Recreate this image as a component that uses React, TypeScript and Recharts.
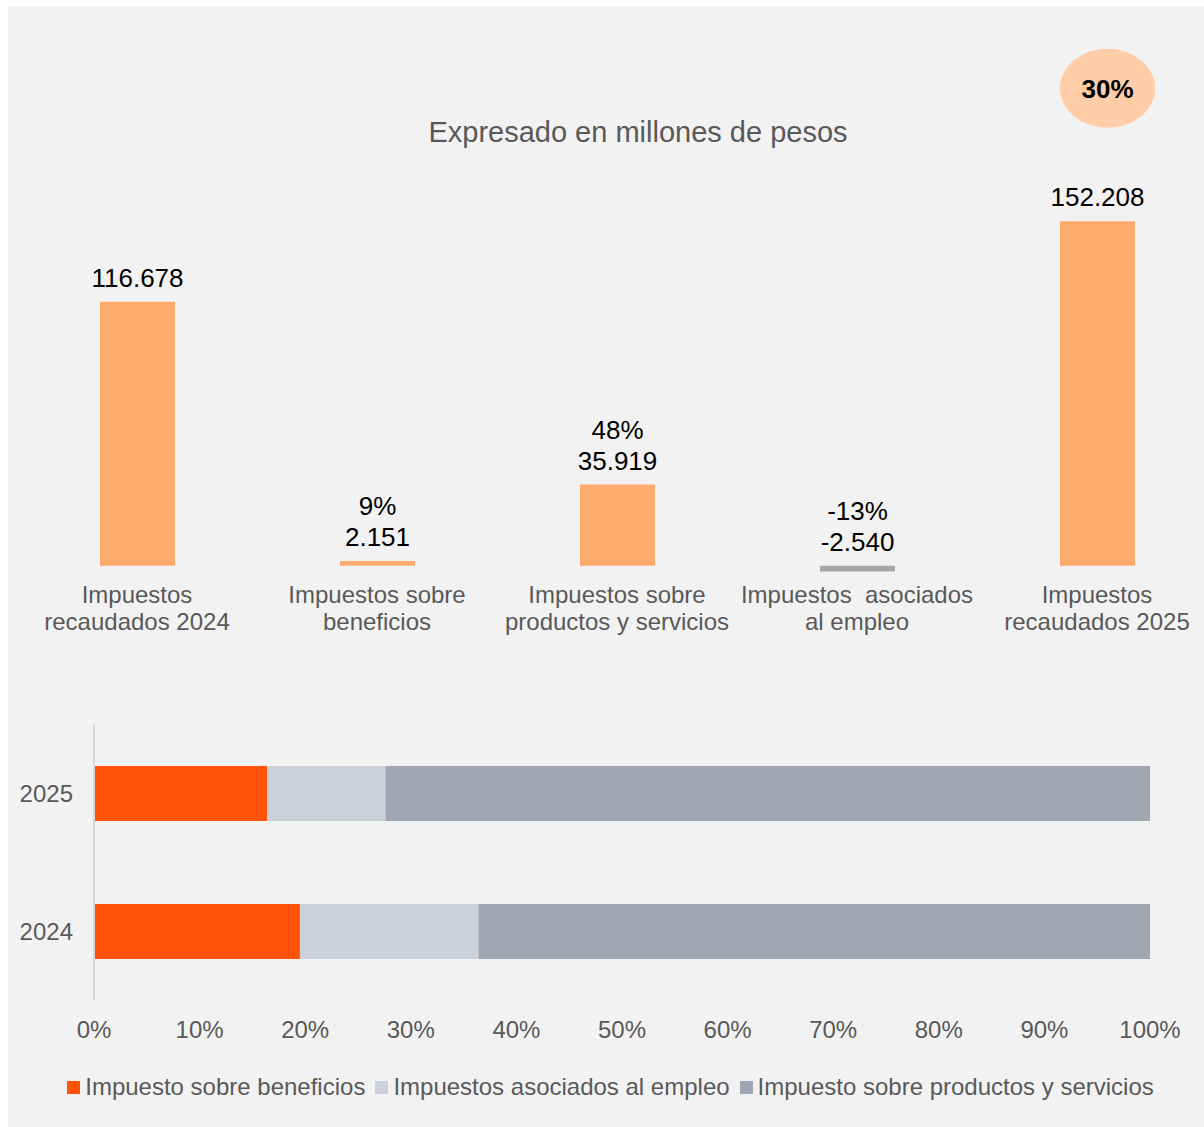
import React from "react";
import {
  BarChart,
  Bar,
  XAxis,
  YAxis,
  Cell,
  LabelList,
  Legend,
} from "recharts";

// top chart: variation of tax collection (millones de pesos)
const categories = [
  "Impuestos\nrecaudados 2024",
  "Impuestos sobre\nbeneficios",
  "Impuestos sobre\nproductos y servicios",
  "Impuestos  asociados\nal empleo",
  "Impuestos\nrecaudados 2025",
];
const amounts = [116678, 2151, 35919, -2540, 152208];
const growthLabels = ["", "9%", "48%", "-13%", "30%"];
const isTotal = [true, false, false, false, true];

// bottom chart: composition in %
const years = ["2025", "2024"];
const beneficios = [16.4, 19.5];
const empleo = [11.2, 16.9];
const productos = [72.4, 63.6];
const pctTicks = [0, 10, 20, 30, 40, 50, 60, 70, 80, 90, 100];

const seriesKeys = ["beneficios", "empleo", "productos"];
const seriesNames = [
  "Impuesto sobre beneficios",
  "Impuestos asociados al empleo",
  "Impuesto sobre productos y servicios",
];
const seriesColors = ["#ff5309", "#ccd0d8", "#a2a6b2"];

const GRAY_TEXT = "#595959";
const FONT = '"Liberation Sans", Arial, sans-serif';

const topData = categories.map((name, i) => ({
  name,
  value: amounts[i],
  growth: growthLabels[i],
  total: isTotal[i],
}));

const mixData = years.map((year, i) => ({
  year,
  beneficios: beneficios[i],
  empleo: empleo[i],
  productos: productos[i],
}));

const fmt = (n: number) => {
  const s = String(Math.abs(n)).replace(/\B(?=(\d{3})+(?!\d))/g, ".");
  return n < 0 ? "-" + s : s;
};

const CategoryTick = (props: any) => {
  const { x, y, payload } = props;
  const lines = String(payload.value).split("\n");
  return (
    <text
      x={x}
      y={y}
      textAnchor="middle"
      fill={GRAY_TEXT}
      fontSize={24}
      style={{ whiteSpace: "pre" }}
    >
      {lines.map((l, i) => (
        <tspan key={i} x={x} dy={i === 0 ? 14.5 : 27}>
          {l}
        </tspan>
      ))}
    </text>
  );
};

const renderTopLabel = (props: any) => {
  const { x, y, width, height, index } = props;
  const d = topData[index];
  if (!d) return null;
  const cx = x + width / 2;
  const top = Math.min(y, y + height);
  const base = top - 15;
  return (
    <g>
      <text x={cx} y={base} textAnchor="middle" fontSize={26} fill="#000">
        {fmt(d.value)}
      </text>
      {d.growth && !d.total && (
        <text x={cx} y={base - 31} textAnchor="middle" fontSize={26} fill="#000">
          {d.growth}
        </text>
      )}
      {d.growth && d.total && (
        <g>
          <ellipse cx={cx + 10} cy={base - 118} rx={47.5} ry={39.5} fill="#ffcda8" />
          <text
            x={cx + 10}
            y={base - 108}
            textAnchor="middle"
            fontSize={26}
            fontWeight="bold"
            fill="#000"
          >
            {d.growth}
          </text>
        </g>
      )}
    </g>
  );
};

const MixLegend = () => (
  <div
    style={{
      display: "flex",
      justifyContent: "center",
      marginLeft: 9,
      fontSize: 24,
      lineHeight: "28px",
      color: GRAY_TEXT,
      whiteSpace: "nowrap",
    }}
  >
    {seriesNames.map((n, i) => (
      <div key={n} style={{ display: "flex", alignItems: "center", marginRight: i < 2 ? 10 : 0 }}>
        <span
          style={{
            display: "inline-block",
            width: 13,
            height: 13,
            background: seriesColors[i],
            marginRight: 5,
          }}
        />
        <span>{n}</span>
      </div>
    ))}
  </div>
);

export default function App() {
  return (
    <div
      style={{
        position: "fixed",
        left: 8,
        top: 6,
        width: 1196,
        height: 1121,
        background: "#f2f2f2",
        overflow: "hidden",
        fontFamily: FONT,
      }}
    >
      <div
        style={{
          position: "absolute",
          left: 330,
          width: 600,
          top: 110,
          lineHeight: "33px",
          fontSize: 29,
          color: GRAY_TEXT,
          textAlign: "center",
          zIndex: 1,
        }}
      >
        Expresado en millones de pesos
      </div>

      <BarChart
        width={1215}
        height={660}
        data={topData}
        margin={{ top: 175, right: 6, bottom: 17.5, left: 9 }}
        barSize={75}
      >
        <XAxis
          dataKey="name"
          axisLine={false}
          tickLine={false}
          tickSize={0}
          tickMargin={0}
          height={60}
          interval={0}
          tick={<CategoryTick />}
        />
        <YAxis hide domain={[-10000, 170000]} />
        <Bar dataKey="value" isAnimationActive={false}>
          {topData.map((d, i) => (
            <Cell key={i} fill={d.value < 0 ? "#a6a6a6" : "#ffab70"} />
          ))}
          <LabelList dataKey="value" content={renderTopLabel} />
        </Bar>
      </BarChart>

      <BarChart
        width={1196}
        height={461}
        data={mixData}
        layout="vertical"
        margin={{ top: 58, right: 54, bottom: 26, left: 6 }}
        barSize={55}
      >
        <XAxis
          type="number"
          domain={[0, 100]}
          ticks={pctTicks}
          tickFormatter={(v) => `${v}%`}
          axisLine={false}
          tickLine={false}
          tickMargin={15}
          height={73}
          interval={0}
          tick={{ fontSize: 24, fill: GRAY_TEXT }}
        />
        <YAxis
          type="category"
          dataKey="year"
          width={80}
          axisLine={{ stroke: "#d9d9d9", strokeWidth: 2 }}
          tickLine={false}
          tickMargin={15}
          tick={{ fontSize: 24, fill: GRAY_TEXT }}
        />
        <Legend
          verticalAlign="bottom"
          wrapperStyle={{ left: 0, width: 1196 }}
          content={<MixLegend />}
        />
        {seriesKeys.map((k, i) => (
          <Bar
            key={k}
            dataKey={k}
            name={seriesNames[i]}
            stackId="a"
            fill={seriesColors[i]}
            isAnimationActive={false}
          />
        ))}
      </BarChart>
    </div>
  );
}
